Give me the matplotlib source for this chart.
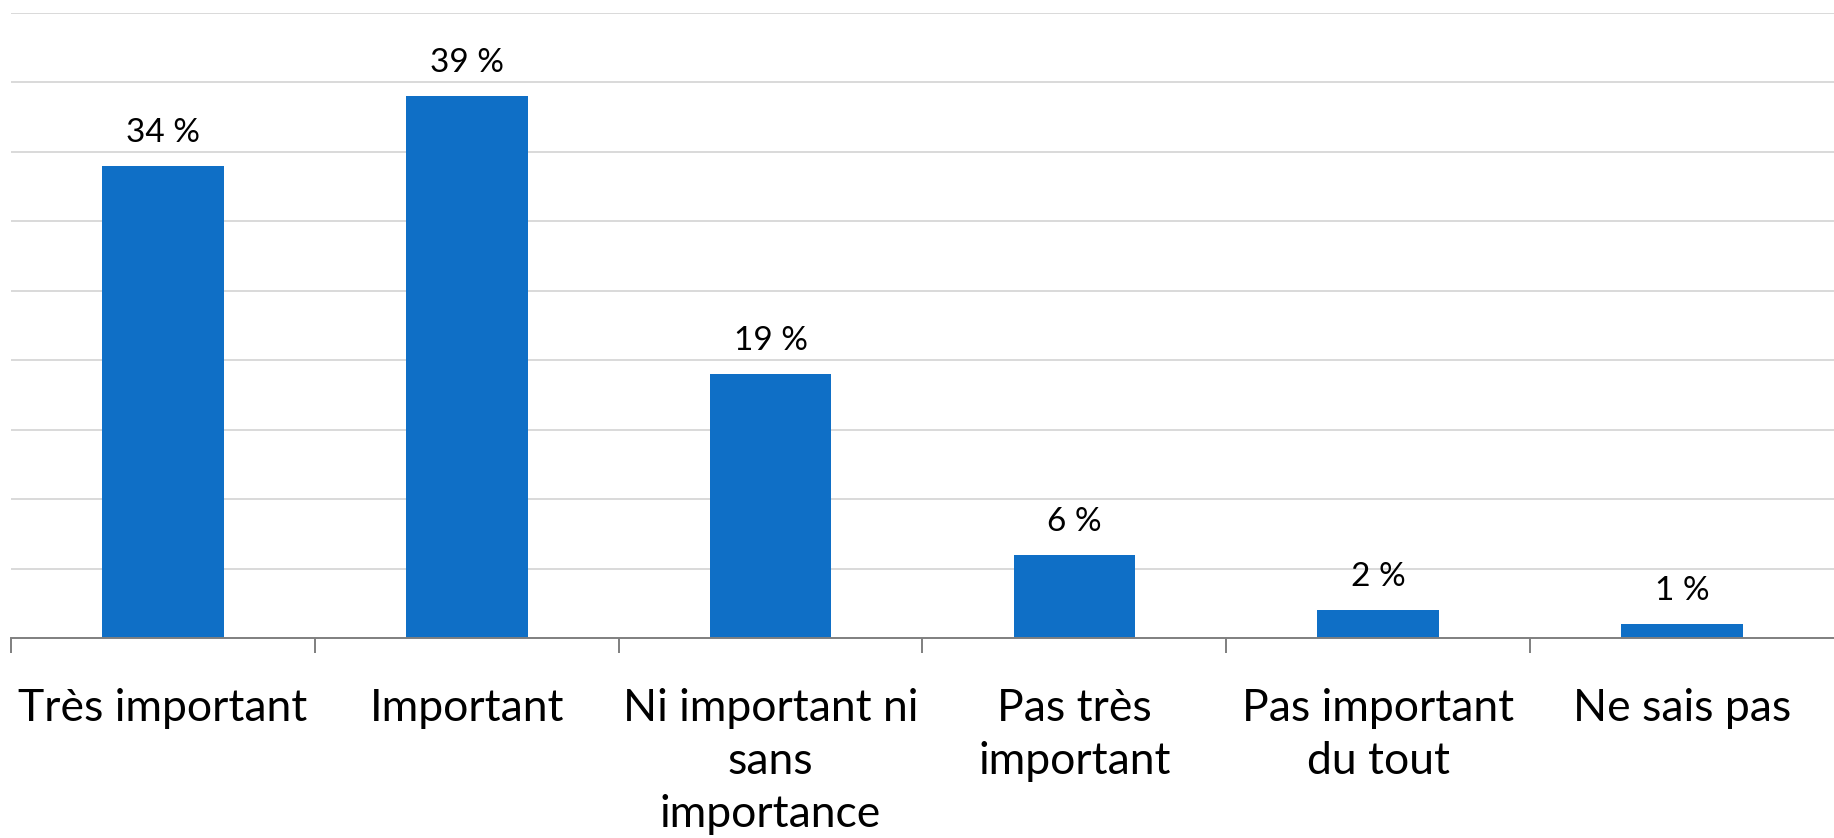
import matplotlib
matplotlib.use("Agg")
import matplotlib.pyplot as plt
import numpy as np

categories = ["Très important", "Important", "Ni important ni\nsans\nimportance",
              "Pas très\nimportant", "Pas important\ndu tout", "Ne sais pas"]
values = [34, 39, 19, 6, 2, 1]
value_labels = ["34 %", "39 %", "19 %", "6 %", "2 %", "1 %"]

W, H = 1834, 838
fig = plt.figure(figsize=(W / 100, H / 100), dpi=100)
fig.patch.set_facecolor("#ffffff")

left, right, bottom, top = 11, 1834, 638, 13
ax = fig.add_axes([left / W, 1 - bottom / H, (right - left) / W, (bottom - top) / H])
ax.set_facecolor("none")

x = np.arange(len(categories))
ax.bar(x, values, width=0.4, color="#0F6FC6", zorder=3)

ax.set_xlim(-0.5, len(categories) - 0.5)
ax.set_ylim(0, 45)
ax.set_yticks(np.arange(5, 46, 5))
ax.yaxis.grid(True, color="#d9d9d9", linewidth=1.4, zorder=0)
ax.tick_params(axis="y", left=False, labelleft=False)

for s in ["top", "right", "left"]:
    ax.spines[s].set_visible(False)
ax.spines["bottom"].set_color("#7f7f7f")
ax.spines["bottom"].set_linewidth(1.4)
ax.spines["bottom"].set_zorder(4)

# category separators as ticks
ax.set_xticks(np.arange(-0.5, len(categories) - 0.5, 1.0), minor=False)
ax.set_xticks(x, minor=True)
ax.tick_params(axis="x", which="major", length=11, width=1.4, color="#7f7f7f",
               labelbottom=False, direction="out")
ax.tick_params(axis="x", which="minor", length=0, pad=36)
ax.set_xticklabels(categories, minor=True, fontsize=32, family="Lato",
                   linespacing=1.37)
for t in ax.get_xticklabels(minor=True):
    t.set_verticalalignment("top")

for xi, v, lab in zip(x, values, value_labels):
    ax.annotate(lab, (xi, v), xytext=(0, 13), textcoords="offset points",
                ha="center", va="bottom", fontsize=24, family="Lato", color="#000000")

fig.savefig("out.png", dpi=100)
